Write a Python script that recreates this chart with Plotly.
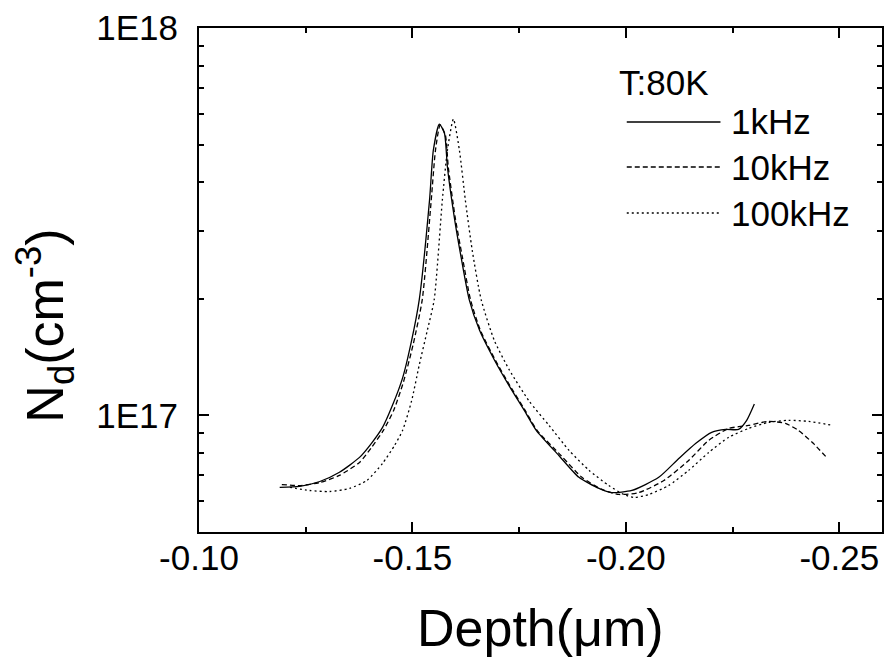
import math
import plotly.graph_objects as go

# ---- data (depth in um, Nd in cm^-3) ----
depth_1k = [-0.1189, -0.1236, -0.1283, -0.1329, -0.1376, -0.1404, -0.1430, -0.1453, -0.1477,
            -0.1498, -0.1516, -0.1540, -0.1549, -0.1563, -0.1575, -0.1582, -0.1598, -0.1614,
            -0.1633, -0.1657, -0.1692, -0.1727, -0.1762, -0.1790, -0.1843, -0.1890, -0.1937,
            -0.1967, -0.2014, -0.2077, -0.2124, -0.2164, -0.2201, -0.2234, -0.2264, -0.2283, -0.2301]
nd_1k = [6.52e16, 6.56e16, 6.75e16, 7.13e16, 7.79e16, 8.47e16, 9.31e16, 1.06e17, 1.25e17,
         1.56e17, 1.99e17, 3.59e17, 4.84e17, 5.65e17, 5.35e17, 4.37e17, 3.25e17, 2.56e17,
         1.99e17, 1.66e17, 1.39e17, 1.19e17, 1.03e17, 9.15e16, 7.88e16, 6.92e16, 6.48e16,
         6.32e16, 6.40e16, 6.92e16, 7.74e16, 8.47e16, 9.04e16, 9.20e16, 9.20e16, 9.71e16, 1.07e17]

depth_10k = [-0.1194, -0.1236, -0.1283, -0.1329, -0.1376, -0.1404, -0.1432, -0.1456, -0.1479,
             -0.1502, -0.1523, -0.1544, -0.1554, -0.1565, -0.1577, -0.1584, -0.1600, -0.1617,
             -0.1636, -0.1659, -0.1694, -0.1729, -0.1764, -0.1792, -0.1848, -0.1897, -0.1944,
             -0.1984, -0.2030, -0.2089, -0.2147, -0.2194, -0.2241, -0.2287, -0.2334, -0.2374,
             -0.2404, -0.2439, -0.2470]
nd_10k = [6.63e16, 6.59e16, 6.71e16, 7.00e16, 7.56e16, 8.26e16, 9.15e16, 1.03e17, 1.22e17,
          1.53e17, 1.99e17, 3.59e17, 4.84e17, 5.62e17, 5.30e17, 4.37e17, 3.25e17, 2.56e17,
          1.99e17, 1.66e17, 1.39e17, 1.19e17, 1.03e17, 9.15e16, 7.88e16, 6.92e16, 6.44e16,
          6.25e16, 6.32e16, 6.79e16, 7.65e16, 8.62e16, 9.25e16, 9.42e16, 9.65e16, 9.53e16,
          9.15e16, 8.47e16, 7.79e16]

depth_100k = [-0.1213, -0.1259, -0.1306, -0.1353, -0.1393, -0.1430, -0.1458, -0.1477, -0.1498,
              -0.1516, -0.1535, -0.1551, -0.1570, -0.1582, -0.1596, -0.1610, -0.1624, -0.1640,
              -0.1661, -0.1692, -0.1727, -0.1773, -0.1820, -0.1867, -0.1914, -0.1960, -0.1995,
              -0.2019, -0.2054, -0.2100, -0.2147, -0.2194, -0.2241, -0.2287, -0.2334, -0.2381,
              -0.2428, -0.2486]
nd_100k = [6.52e16, 6.40e16, 6.36e16, 6.48e16, 6.79e16, 7.52e16, 8.36e16, 9.15e16, 1.09e17,
           1.35e17, 1.66e17, 1.99e17, 3.59e17, 4.84e17, 5.82e17, 4.84e17, 3.59e17, 2.67e17,
           1.99e17, 1.56e17, 1.31e17, 1.09e17, 9.42e16, 8.12e16, 7.21e16, 6.59e16, 6.25e16,
           6.14e16, 6.25e16, 6.59e16, 7.21e16, 8.02e16, 8.78e16, 9.25e16, 9.59e16, 9.71e16,
           9.65e16, 9.42e16]

series_names = ["1kHz", "10kHz", "100kHz"]
series_x = [depth_1k, depth_10k, depth_100k]
series_y = [nd_1k, nd_10k, nd_100k]
series_dash = ["solid", "5px,3px", "2px,3px"]

x_ticks = [-0.10, -0.15, -0.20, -0.25]
x_ticktext = ["-0.10", "-0.15", "-0.20", "-0.25"]
x_minor = [-0.125, -0.175, -0.225]
y_ticks = [1e17, 1e18]
y_ticktext = ["1E17", "1E18"]
y_minor = [6e16, 7e16, 8e16, 9e16, 2e17, 3e17, 4e17, 5e17, 6e17, 7e17, 8e17, 9e17]

FONT = "Arial, 'Liberation Sans', sans-serif"

fig = go.Figure()
for name, xs, ys, dash in zip(series_names, series_x, series_y, series_dash):
    fig.add_trace(go.Scatter(x=xs, y=ys, mode="lines", name=name,
                             line=dict(color="black", width=1.3, dash=dash,
                                       shape="spline", smoothing=0.6),
                             showlegend=False))

fig.update_layout(
    width=888, height=664,
    margin=dict(l=199, r=4, t=28, b=132),
    paper_bgcolor="white", plot_bgcolor="white",
    font=dict(family=FONT, color="black"),
    showlegend=False,
)

axis_common = dict(showline=True, linewidth=2, linecolor="black", mirror="ticks",
                   ticks="inside", ticklen=10, tickwidth=2, tickcolor="black",
                   showgrid=False, zeroline=False)

fig.update_xaxes(range=[-0.10, -0.26], tickmode="array", tickvals=x_ticks,
                 ticktext=x_ticktext, tickfont=dict(size=35, family=FONT),
                 ticklabelstandoff=-6,
                 minor=dict(tickmode="array", tickvals=x_minor, ticks="inside", ticklen=5,
                            tickwidth=2, tickcolor="black", showgrid=False),
                 **axis_common)
fig.update_yaxes(type="log", range=[math.log10(5e16), 18], tickmode="array",
                 tickvals=y_ticks, ticktext=y_ticktext, tickfont=dict(size=35, family=FONT),
                 ticklabelstandoff=12,
                 minor=dict(tickmode="array", tickvals=y_minor, ticks="inside", ticklen=5,
                            tickwidth=2, tickcolor="black", showgrid=False),
                 **axis_common)

# axis titles
fig.add_annotation(text="Depth(\u03bcm)", xref="paper", yref="paper", x=0.5, y=-0.19,
                   xanchor="center", yanchor="middle", showarrow=False,
                   font=dict(size=52, family=FONT))
fig.add_annotation(text="N<sub>d</sub>(cm<sup>-3</sup>)", xref="paper", yref="paper",
                   x=-0.225, y=0.41, xanchor="center", yanchor="middle", textangle=-90,
                   showarrow=False, font=dict(size=52, family=FONT))

# legend (manual)
fig.add_annotation(text="T:80K", xref="paper", yref="paper", x=0.612, y=0.891,
                   xanchor="left", yanchor="middle", showarrow=False,
                   font=dict(size=35, family=FONT))
leg_y = [0.8135, 0.7242, 0.6329]
for name, dash, ly in zip(series_names, series_dash, leg_y):
    fig.add_shape(type="line", xref="paper", yref="paper", x0=0.6263, x1=0.7635,
                  y0=ly, y1=ly, line=dict(color="black", width=1.3, dash=dash))
    fig.add_annotation(text=name, xref="paper", yref="paper", x=0.776, y=ly,
                       xanchor="left", yanchor="middle", showarrow=False,
                       font=dict(size=35, family=FONT))

fig.write_html("out.html")
